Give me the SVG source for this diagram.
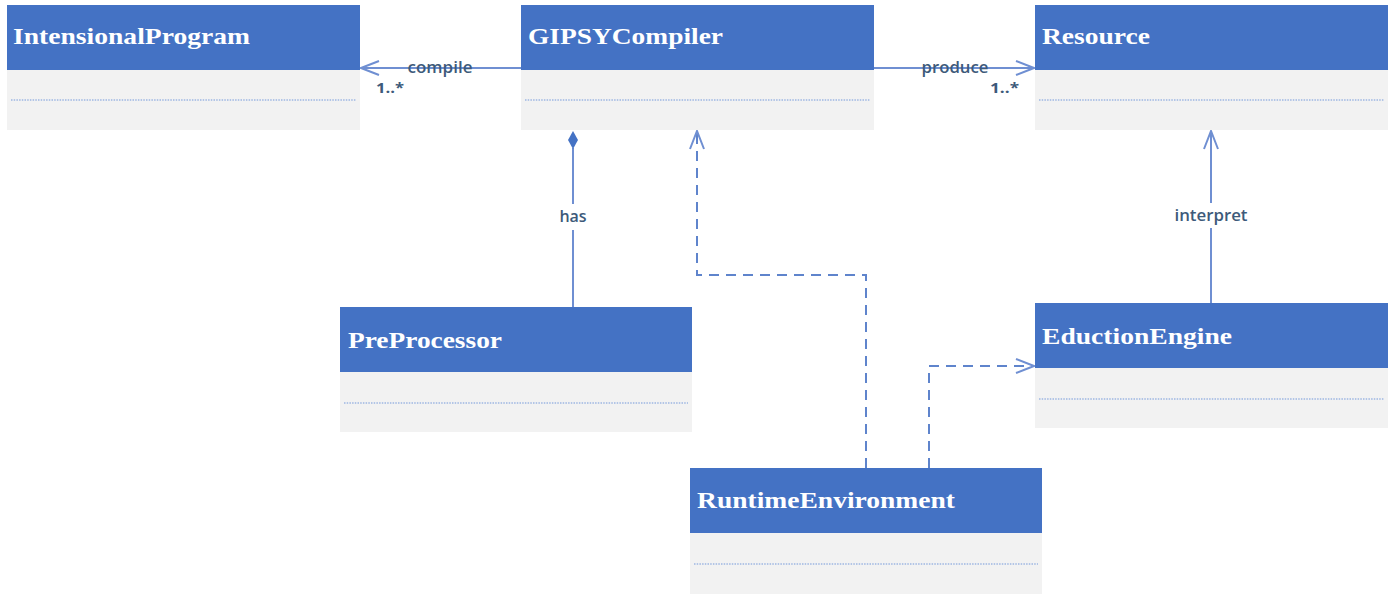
<svg xmlns="http://www.w3.org/2000/svg" width="1389" height="595" viewBox="0 0 1389 595">
<style>
.hd{fill:#4472c4}
.bd{fill:#f2f2f2}
.dot{stroke:#9db6e2;stroke-width:1.5;stroke-dasharray:1.5 1.2;fill:none}
.nm{font-family:"Liberation Serif",serif;font-weight:bold;font-size:23px;fill:#ffffff}
.ln{stroke:#6f8fd2;stroke-width:2;fill:none}
.dl{stroke:#5f84cc;stroke-width:2;fill:none;stroke-dasharray:10 7}
.lb{font-family:"Open Sans","Liberation Sans",sans-serif;font-size:16px;font-weight:600;fill:#3d5a7a;text-anchor:middle}
.mu{font-family:"Open Sans","Liberation Sans",sans-serif;font-size:15px;font-weight:bold;fill:#3d5a7a}
</style>
<defs>
<marker id="open" viewBox="0 0 20 20" refX="19" refY="10" markerWidth="20" markerHeight="20" markerUnits="userSpaceOnUse" orient="auto">
<path d="M1 3 L19 10 L1 17" fill="none" stroke="#6f8fd2" stroke-width="2"/>
</marker>
</defs>
<g id="IntensionalProgram">
<rect class="hd" x="7" y="5" width="353" height="65"/>
<rect class="bd" x="7" y="70" width="353" height="60"/>
<line class="dot" x1="11" y1="100" x2="356" y2="100"/>
<text class="nm" x="13" y="44" textLength="237" lengthAdjust="spacingAndGlyphs">IntensionalProgram</text>
</g>
<g id="GIPSYCompiler">
<rect class="hd" x="521" y="5" width="353" height="65"/>
<rect class="bd" x="521" y="70" width="353" height="60"/>
<line class="dot" x1="525" y1="100" x2="870" y2="100"/>
<text class="nm" x="528" y="44" textLength="195" lengthAdjust="spacingAndGlyphs">GIPSYCompiler</text>
</g>
<g id="Resource">
<rect class="hd" x="1035" y="5" width="353" height="65"/>
<rect class="bd" x="1035" y="70" width="353" height="60"/>
<line class="dot" x1="1039" y1="100" x2="1384" y2="100"/>
<text class="nm" x="1042" y="44" textLength="108" lengthAdjust="spacingAndGlyphs">Resource</text>
</g>
<g id="PreProcessor">
<rect class="hd" x="340" y="307" width="352" height="65"/>
<rect class="bd" x="340" y="372" width="352" height="60"/>
<line class="dot" x1="344" y1="403" x2="688" y2="403"/>
<text class="nm" x="348" y="348" textLength="154" lengthAdjust="spacingAndGlyphs">PreProcessor</text>
</g>
<g id="EductionEngine">
<rect class="hd" x="1035" y="303" width="353" height="65"/>
<rect class="bd" x="1035" y="368" width="353" height="60"/>
<line class="dot" x1="1039" y1="399" x2="1384" y2="399"/>
<text class="nm" x="1042" y="344" textLength="190" lengthAdjust="spacingAndGlyphs">EductionEngine</text>
</g>
<g id="RuntimeEnvironment">
<rect class="hd" x="690" y="468" width="352" height="65"/>
<rect class="bd" x="690" y="533" width="352" height="61"/>
<line class="dot" x1="694" y1="564" x2="1038" y2="564"/>
<text class="nm" x="697" y="508" textLength="258" lengthAdjust="spacingAndGlyphs">RuntimeEnvironment</text>
</g>
<g id="connectors">
<line class="ln" x1="521" y1="68" x2="361" y2="68" marker-end="url(#open)"/>
<text class="lb" x="440" y="73" textLength="65" lengthAdjust="spacingAndGlyphs">compile</text>
<text class="mu" x="376" y="93" textLength="28" lengthAdjust="spacingAndGlyphs">1..*</text>
<line class="ln" x1="874" y1="68" x2="1034" y2="68" marker-end="url(#open)"/>
<text class="lb" x="955" y="73" textLength="67" lengthAdjust="spacingAndGlyphs">produce</text>
<text class="mu" x="990" y="93" textLength="29" lengthAdjust="spacingAndGlyphs">1..*</text>
<line class="ln" x1="573" y1="148" x2="573" y2="204"/>
<line class="ln" x1="573" y1="230" x2="573" y2="307"/>
<path d="M573 131 L578 140 L573 149 L568 140 Z" fill="#4472c4"/>
<text class="lb" x="573" y="222">has</text>
<polyline class="dl" points="866,468 866,275 697,275 697,131" marker-end="url(#open)"/>
<polyline class="dl" points="929,468 929,366 1034,366" marker-end="url(#open)"/>
<line class="ln" x1="1211" y1="303" x2="1211" y2="228"/>
<line class="ln" x1="1211" y1="203" x2="1211" y2="131" marker-end="url(#open)"/>
<text class="lb" x="1211" y="221" textLength="73" lengthAdjust="spacingAndGlyphs">interpret</text>
</g>
</svg>
